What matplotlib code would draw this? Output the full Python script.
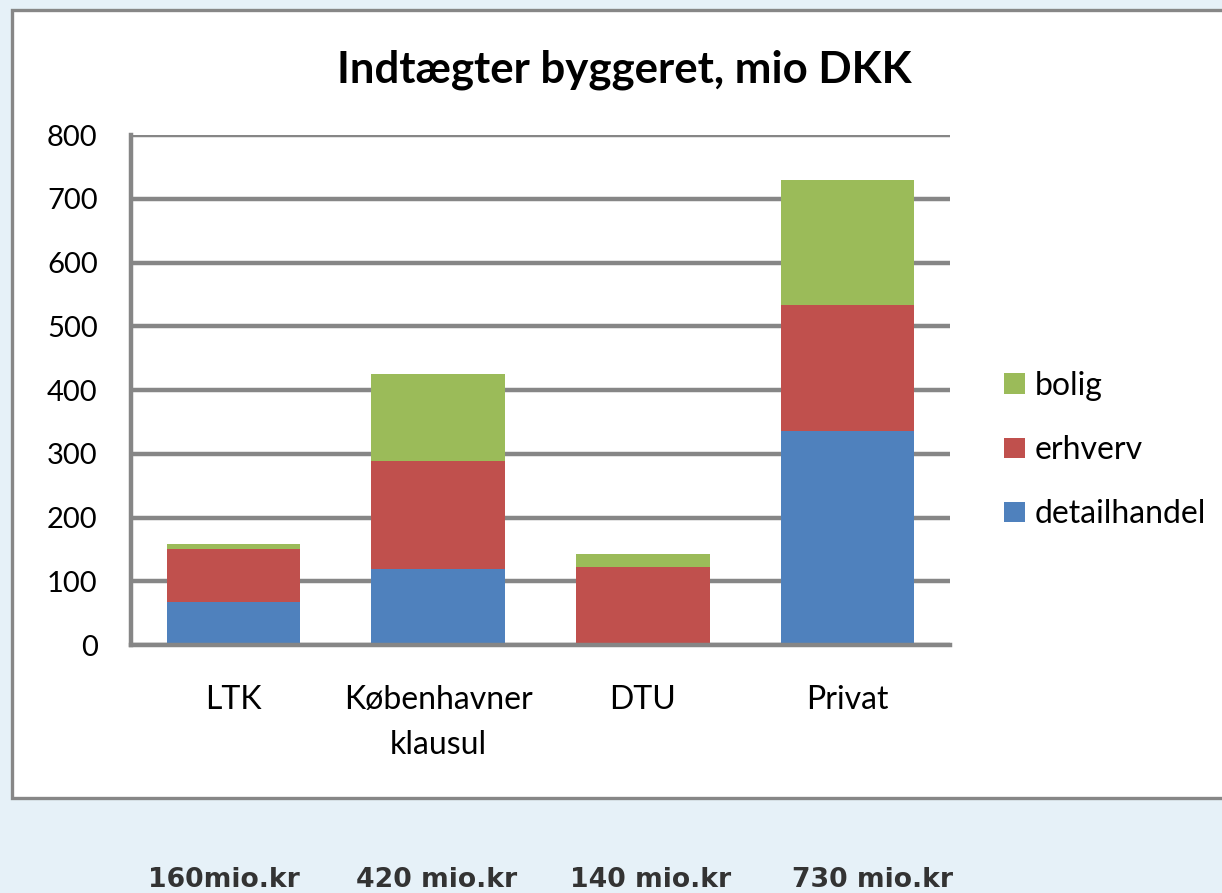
import matplotlib
matplotlib.use("Agg")
import matplotlib.pyplot as plt
import matplotlib.patches as mpatches
import numpy as np

# Data (mio DKK)
categories = ["LTK", "Københavner\nklausul", "DTU", "Privat"]
detailhandel = [67, 120, 0, 336]
erhverv = [84, 168, 122, 197]
bolig = [8, 137, 21, 197]
totals_text = ["160mio.kr", "420 mio.kr", "140 mio.kr", "730 mio.kr"]
yticks = [0, 100, 200, 300, 400, 500, 600, 700, 800]

BLUE = "#4F81BD"
RED = "#C0504D"
GREEN = "#9BBB59"
GRID = "#868686"
BG = "#E6F1F8"

plt.rcParams["font.family"] = ["Lato", "DejaVu Sans"]

fig = plt.figure(figsize=(12.22, 8.93), dpi=100)
fig.patch.set_facecolor(BG)

# white chart box with grey frame
box = mpatches.Rectangle((0.0098, 0.1064), 1.02, 0.8824, transform=fig.transFigure,
                         facecolor="white", edgecolor="#878787", linewidth=2.4, zorder=-1)
fig.patches.append(box)

ax = fig.add_axes([0.1072, 0.2777, 0.6702, 0.5711])
ax.set_zorder(2)
ax.set_facecolor("none")

x = np.arange(len(categories))
w = 0.651
bottom2 = np.array(detailhandel)
bottom3 = bottom2 + np.array(erhverv)
b1 = ax.bar(x, detailhandel, w, color=BLUE, zorder=3, label="detailhandel")
b2 = ax.bar(x, erhverv, w, bottom=bottom2, color=RED, zorder=3, label="erhverv")
b3 = ax.bar(x, bolig, w, bottom=bottom3, color=GREEN, zorder=3, label="bolig")

ax.set_xlim(-0.5, len(categories) - 0.5)
ax.set_ylim(0, 800)
ax.set_yticks(yticks)
ax.set_yticklabels([str(v) for v in yticks])
ax.set_xticks(x)
ax.set_xticklabels(categories, linespacing=1.62)
ax.tick_params(axis="y", length=0, pad=24, labelsize=21)
ax.tick_params(axis="x", length=0, pad=29, labelsize=23)

ax.yaxis.grid(True, color=GRID, linewidth=3.2, zorder=1)
ax.set_axisbelow(True)
for s in ["top", "right"]:
    ax.spines[s].set_visible(False)
ax.spines["left"].set_color(GRID)
ax.spines["left"].set_linewidth(3.2)
ax.spines["bottom"].set_color(GRID)
ax.spines["bottom"].set_linewidth(3.2)
ax.spines["bottom"].set_zorder(4)

fig.text(0.511, 0.9216, "Indtægter byggeret, mio DKK", ha="center", va="center",
         fontsize=31.5, fontweight="bold", color="black")

handles = [b3, b2, b1]
ax.legend(handles, [h.get_label() for h in handles], loc="center left",
          bbox_to_anchor=(0.822, 0.496), bbox_transform=fig.transFigure,
          frameon=False, fontsize=23, handlelength=0.64, handleheight=0.6,
          handletextpad=0.3, labelspacing=1.07, borderpad=0, borderaxespad=0)

# totals under the chart
total_x = [224, 437, 651, 872]
for tx, t in zip(total_x, totals_text):
    fig.text(tx / 1222, 1 - 880 / 893, t, ha="center", va="center",
             fontsize=19.2, fontweight="bold", color="#333333", family="DejaVu Sans")

fig.savefig("out.png", dpi=100, facecolor=BG)
